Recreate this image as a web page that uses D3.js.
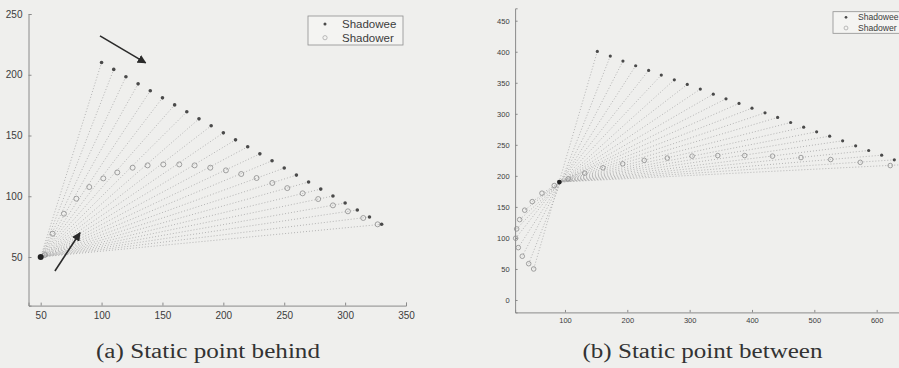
<!DOCTYPE html>
<html>
<head>
<meta charset="utf-8">
<script src="https://cdn.jsdelivr.net/npm/d3@7"></script>
<style>
  html, body { margin: 0; padding: 0; background: #efefed; }
  svg { display: block; }
</style>
</head>
<body>
<svg id="fig" width="899" height="368"></svg>
<script>
// ---- (a) Static point behind ----
const aStatic = [50, 50];
const aShadoweeX = [100, 110, 120, 130, 140, 150, 160, 170, 180, 190, 200, 210, 220, 230, 240, 250, 260, 270, 280, 290, 300, 310, 320, 330];
const aShadoweeY = [210.1, 204.4, 198.3, 192.5, 186.8, 181.0, 175.2, 169.5, 163.7, 158.0, 152.2, 146.4, 140.7, 134.9, 129.2, 123.2, 117.4, 111.7, 105.9, 100.2, 94.4, 88.7, 82.9, 76.9];
const aShadowerX = [53.3, 59.8, 69.1, 79.3, 89.9, 101.4, 112.9, 125.5, 137.8, 150.7, 163.8, 176.4, 189.3, 202.1, 214.7, 227.3, 240.2, 252.5, 265.1, 277.9, 290.0, 302.3, 314.9, 326.7];
const aShadowerY = [51.6, 69.2, 85.6, 98.0, 107.6, 114.7, 119.6, 123.5, 125.4, 126.2, 126.2, 125.4, 123.5, 121.3, 118.3, 115.0, 110.9, 106.7, 102.4, 97.7, 92.5, 87.6, 82.1, 76.9];
const aXTicks = [50, 100, 150, 200, 250, 300, 350];
const aYTicks = [50, 100, 150, 200, 250];
// annotation arrows, in data units: [x0, y0, x1, y1]
const aArrows = [[98.7, 232, 136.2, 209.8], [61.7, 38.5, 82.3, 70]];

// ---- (b) Static point between ----
const bStatic = [91, 190];
const bShadoweeX = [151.9, 172.7, 193.0, 213.4, 234.2, 254.5, 275.4, 296.2, 317.1, 337.9, 358.3, 379.2, 400.0, 420.9, 441.1, 462.0, 482.9, 503.7, 524.6, 545.4, 566.3, 587.2, 608.0, 628.3, 649];
const bShadoweeY = [400.5, 393.0, 384.9, 377.4, 369.9, 362.4, 354.8, 347.3, 339.8, 331.7, 324.2, 316.7, 309.1, 301.6, 294.1, 286.0, 278.5, 271.0, 264.0, 256.5, 248.4, 240.9, 233.3, 225.8, 218.3];
const bShadowerX = [49.8, 41.8, 31.5, 25.1, 20.9, 22.5, 27.3, 35.4, 47.5, 63.1, 82.8, 105.3, 131.6, 161.0, 192.6, 227.2, 264.1, 304.0, 345.1, 388.3, 432.9, 478.6, 526.2, 573.7, 621.8];
const bShadowerY = [50.0, 58.5, 70.5, 84.4, 99.5, 114.5, 129.5, 144.7, 158.5, 172.1, 184.4, 195.2, 204.4, 212.9, 219.4, 225.0, 228.7, 231.8, 232.7, 232.7, 231.8, 229.5, 226.3, 221.8, 216.6];
const bXTicks = [100, 200, 300, 400, 500, 600];
const bYTicks = [0, 50, 100, 150, 200, 250, 300, 350, 400, 450];

const legendLabels = ["Shadowee", "Shadower"];
const captions = ["(a) Static point behind", "(b) Static point between"];

const SANS = "Liberation Sans";
const SERIF = "Liberation Serif";

const svg = d3.select("#fig");

svg.append("defs").append("marker")
  .attr("id", "arrowHead")
  .attr("viewBox", "0 0 10 10")
  .attr("refX", 9).attr("refY", 5)
  .attr("markerWidth", 5.5).attr("markerHeight", 5.5)
  .attr("orient", "auto")
  .append("path").attr("d", "M0,0 L10,5 L0,10 z").attr("fill", "#2a2a2a");

function panel(cfg) {
  const g = svg.append("g");
  const x = d3.scaleLinear().domain(cfg.xDomain).range(cfg.xRange);
  const y = d3.scaleLinear().domain(cfg.yDomain).range(cfg.yRange);

  const xAxis = d3.axisBottom(x).tickValues(cfg.xTicks).tickSize(-cfg.tick).tickPadding(cfg.pad + cfg.tick);
  const yAxis = d3.axisLeft(y).tickValues(cfg.yTicks).tickSize(-cfg.tick).tickPadding(cfg.pad + cfg.tick);

  const gx = g.append("g").attr("transform", `translate(0,${cfg.yRange[0]})`).call(xAxis);
  const gy = g.append("g").attr("transform", `translate(${cfg.xRange[0]},0)`).call(yAxis);
  [gx, gy].forEach(a => {
    a.attr("font-family", SANS);
    a.select(".domain").attr("stroke", "#8a8a8a").attr("stroke-width", 1);
    a.selectAll(".tick line").attr("stroke", "#8a8a8a");
    a.selectAll(".tick text").attr("fill", "#3c3c3c")
      .attr("font-family", SANS).attr("font-size", cfg.font);
  });

  const pts = cfg.eeX.map((v, i) => ({
    ee: [cfg.eeX[i], cfg.eeY[i]],
    er: [cfg.erX[i], cfg.erY[i]]
  }));

  // each sight line runs from the shadowee to whichever of the static point
  // and the shadower lies further away along it
  const dist = (p, q) => Math.hypot(x(p[0]) - x(q[0]), y(p[1]) - y(q[1]));
  const farEnd = d => dist(d.ee, cfg.stat) >= dist(d.ee, d.er) ? cfg.stat : d.er;
  g.append("g").selectAll("line").data(pts).join("line")
    .attr("x1", d => x(d.ee[0])).attr("y1", d => y(d.ee[1]))
    .attr("x2", d => x(farEnd(d)[0]))
    .attr("y2", d => y(farEnd(d)[1]))
    .attr("stroke", "#adadad").attr("stroke-width", 0.9)
    .attr("stroke-dasharray", "1 2");

  g.append("g").selectAll("circle").data(pts).join("circle")
    .attr("cx", d => x(d.er[0])).attr("cy", d => y(d.er[1]))
    .attr("r", cfg.rEr).attr("fill", "none")
    .attr("stroke", "#8c8c8c").attr("stroke-width", 0.8);

  g.append("g").selectAll("circle").data(pts).join("circle")
    .attr("cx", d => x(d.ee[0])).attr("cy", d => y(d.ee[1]))
    .attr("r", cfg.rEe).attr("fill", "#4a4a4a");

  g.append("circle")
    .attr("cx", x(cfg.stat[0])).attr("cy", y(cfg.stat[1]))
    .attr("r", cfg.rStat).attr("fill", "#222");

  (cfg.arrows || []).forEach(a => {
    g.append("line")
      .attr("x1", x(a[0])).attr("y1", y(a[1]))
      .attr("x2", x(a[2])).attr("y2", y(a[3]))
      .attr("stroke", "#2a2a2a").attr("stroke-width", 1.6)
      .attr("marker-end", "url(#arrowHead)");
  });

  // legend
  const L = cfg.legend;
  const lg = g.append("g").attr("transform", `translate(${L.x},${L.y})`);
  lg.append("rect").attr("width", L.w).attr("height", L.h)
    .attr("fill", "#f4f4f2").attr("stroke", "#8f8f8f").attr("stroke-width", 0.8);
  legendLabels.forEach((lab, i) => {
    const cy = L.row0 + i * L.step;
    if (i === 0) {
      lg.append("circle").attr("cx", L.mx).attr("cy", cy).attr("r", cfg.rEe * 0.85).attr("fill", "#4a4a4a");
    } else {
      lg.append("circle").attr("cx", L.mx).attr("cy", cy).attr("r", cfg.rEr * 0.85)
        .attr("fill", "none").attr("stroke", "#a0a0a0").attr("stroke-width", 0.7);
    }
    lg.append("text").attr("x", L.tx).attr("y", cy).attr("dy", "0.35em")
      .attr("fill", "#3c3c3c").attr("font-family", SANS).attr("font-size", L.font).text(lab);
  });

  svg.append("text")
    .attr("x", cfg.cap.x).attr("y", 358)
    .attr("text-anchor", "middle")
    .attr("textLength", cfg.cap.w).attr("lengthAdjust", "spacingAndGlyphs")
    .attr("fill", "#333")
    .attr("font-family", SERIF)
    .attr("font-size", 20)
    .text(cfg.cap.text);
}

panel({
  xDomain: [40, 350], xRange: [28.5, 406],
  yDomain: [10, 250], yRange: [305.6, 14],
  xTicks: aXTicks, yTicks: aYTicks, tick: 3, pad: 3, font: 10,
  eeX: aShadoweeX, eeY: aShadoweeY, erX: aShadowerX, erY: aShadowerY,
  stat: aStatic, arrows: aArrows,
  rEe: 1.8, rEr: 2.5, rStat: 3,
  legend: { x: 308, y: 16, w: 95, h: 29, row0: 8, step: 13.7, mx: 17, tx: 34, font: 11.5 },
  cap: { x: 208, w: 224, text: captions[0] }
});

panel({
  xDomain: [20, 700], xRange: [515.1, 939],
  yDomain: [-20, 470], yRange: [312.4, 8.3],
  xTicks: bXTicks, yTicks: bYTicks, tick: 2.5, pad: 3, font: 7.5,
  eeX: bShadoweeX, eeY: bShadoweeY, erX: bShadowerX, erY: bShadowerY,
  stat: bStatic,
  rEe: 1.6, rEr: 2.3, rStat: 2.4,
  legend: { x: 833, y: 11.7, w: 90, h: 21.6, row0: 5.6, step: 10.7, mx: 13, tx: 25, font: 8.6 },
  cap: { x: 702.5, w: 240, text: captions[1] }
});
</script>
</body>
</html>
